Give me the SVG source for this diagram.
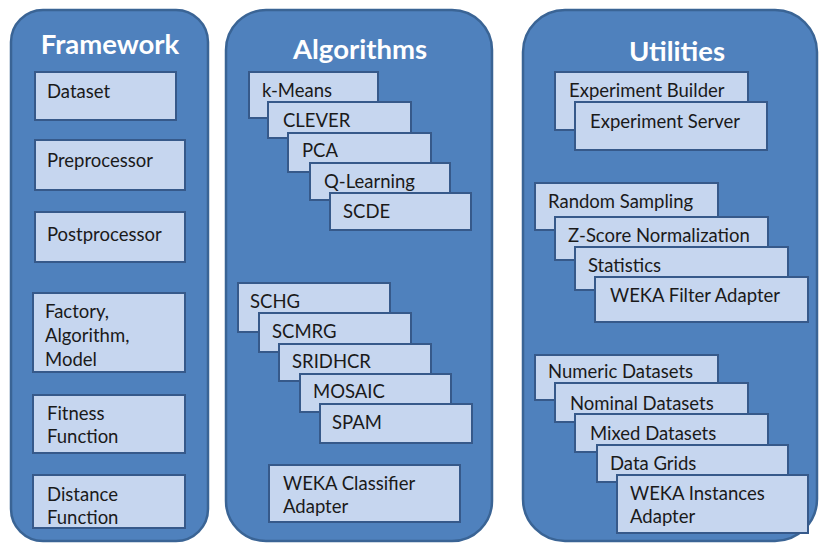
<svg xmlns="http://www.w3.org/2000/svg" width="819" height="544" viewBox="0 0 819 544">
  <style>
    .panel { fill: #4F81BD; stroke: #3A6495; stroke-width: 2.5; }
    .box { fill: #C6D6EF; stroke: #36598A; stroke-width: 2; }
    .title { font-family: Lato, "Open Sans", sans-serif; font-weight: bold; font-size: 27.5px; fill: #FFFFFF; text-anchor: middle; }
    .lbl { font-family: Lato, "Open Sans", sans-serif; font-size: 18.5px; fill: #1A1A1A; }
  </style>
  <rect width="819" height="544" fill="#FFFFFF"/>

  <!-- Framework column -->
  <g id="framework">
    <rect class="panel" x="11" y="10" width="197" height="531" rx="32" ry="32"/>
    <text class="title" x="110" y="54">Framework</text>
  </g>
  <g id="fw-dataset"><rect class="box" x="35" y="72" width="141" height="48"/><text class="lbl" x="47" y="98">Dataset</text></g>
  <g id="fw-preprocessor"><rect class="box" x="35" y="140" width="150" height="50"/><text class="lbl" x="47" y="167">Preprocessor</text></g>
  <g id="fw-postprocessor"><rect class="box" x="35" y="212" width="150" height="50"/><text class="lbl" x="47" y="241">Postprocessor</text></g>
  <g id="fw-factory"><rect class="box" x="33" y="293" width="152" height="79"/>
    <text class="lbl" x="45" y="318">Factory,</text><text class="lbl" x="45" y="342">Algorithm,</text><text class="lbl" x="45" y="366">Model</text></g>
  <g id="fw-fitness"><rect class="box" x="33" y="395" width="152" height="58"/>
    <text class="lbl" x="47" y="420">Fitness</text><text class="lbl" x="47" y="443">Function</text></g>
  <g id="fw-distance"><rect class="box" x="33" y="475" width="152" height="53"/>
    <text class="lbl" x="47" y="501">Distance</text><text class="lbl" x="47" y="524">Function</text></g>

  <!-- Algorithms column -->
  <g id="algorithms">
    <rect class="panel" x="226" y="10" width="266" height="531" rx="40" ry="40"/>
    <text class="title" x="360" y="59">Algorithms</text>
  </g>
  <g id="alg-kmeans"><rect class="box" x="249" y="72" width="129" height="46"/><text class="lbl" x="262" y="97">k-Means</text></g>
  <g id="alg-clever"><rect class="box" x="268" y="102" width="143" height="36"/><text class="lbl" x="283" y="127">CLEVER</text></g>
  <g id="alg-pca"><rect class="box" x="288" y="133" width="143" height="39"/><text class="lbl" x="302" y="157">PCA</text></g>
  <g id="alg-qlearning"><rect class="box" x="310" y="163" width="140" height="37"/><text class="lbl" x="324" y="188">Q-Learning</text></g>
  <g id="alg-scde"><rect class="box" x="330" y="193" width="141" height="37"/><text class="lbl" x="343" y="218">SCDE</text></g>

  <g id="alg-schg"><rect class="box" x="238" y="283" width="152" height="49"/><text class="lbl" x="250" y="308">SCHG</text></g>
  <g id="alg-scmrg"><rect class="box" x="259" y="313" width="152" height="39"/><text class="lbl" x="272" y="338">SCMRG</text></g>
  <g id="alg-sridhcr"><rect class="box" x="279" y="344" width="152" height="37"/><text class="lbl" x="292" y="368">SRIDHCR</text></g>
  <g id="alg-mosaic"><rect class="box" x="300" y="374" width="151" height="38"/><text class="lbl" x="313" y="398">MOSAIC</text></g>
  <g id="alg-spam"><rect class="box" x="320" y="404" width="152" height="39"/><text class="lbl" x="332" y="429">SPAM</text></g>
  <g id="alg-weka-classifier"><rect class="box" x="269" y="465" width="191" height="57"/>
    <text class="lbl" x="283" y="490">WEKA Classifier</text><text class="lbl" x="283" y="513">Adapter</text></g>

  <!-- Utilities column -->
  <g id="utilities">
    <rect class="panel" x="523" y="10" width="294" height="531" rx="42" ry="42"/>
    <text class="title" x="677" y="61">Utilities</text>
  </g>
  <g id="ut-exp-builder"><rect class="box" x="555" y="72" width="193" height="58"/><text class="lbl" x="569" y="97">Experiment Builder</text></g>
  <g id="ut-exp-server"><rect class="box" x="575" y="102" width="192" height="48"/><text class="lbl" x="590" y="128">Experiment Server</text></g>

  <g id="ut-random"><rect class="box" x="535" y="183" width="183" height="47"/><text class="lbl" x="548" y="208">Random Sampling</text></g>
  <g id="ut-zscore"><rect class="box" x="555" y="217" width="213" height="43"/><text class="lbl" x="568" y="242">Z-Score Normalization</text></g>
  <g id="ut-statistics"><rect class="box" x="575" y="247" width="213" height="43"/><text class="lbl" x="588" y="272">Statistics</text></g>
  <g id="ut-weka-filter"><rect class="box" x="595" y="277" width="213" height="45"/><text class="lbl" x="610" y="302">WEKA Filter Adapter</text></g>

  <g id="ut-numeric"><rect class="box" x="535" y="355" width="183" height="45"/><text class="lbl" x="548" y="378">Numeric Datasets</text></g>
  <g id="ut-nominal"><rect class="box" x="555" y="383" width="193" height="39"/><text class="lbl" x="570" y="410">Nominal Datasets</text></g>
  <g id="ut-mixed"><rect class="box" x="575" y="414" width="193" height="38"/><text class="lbl" x="590" y="440">Mixed Datasets</text></g>
  <g id="ut-datagrids"><rect class="box" x="597" y="445" width="191" height="37"/><text class="lbl" x="610" y="470">Data Grids</text></g>
  <g id="ut-weka-instances"><rect class="box" x="617" y="475" width="191" height="58"/>
    <text class="lbl" x="630" y="500">WEKA Instances</text><text class="lbl" x="630" y="523">Adapter</text></g>

  <!-- no connectors in this figure -->
  <g id="connectors"/>
</svg>
